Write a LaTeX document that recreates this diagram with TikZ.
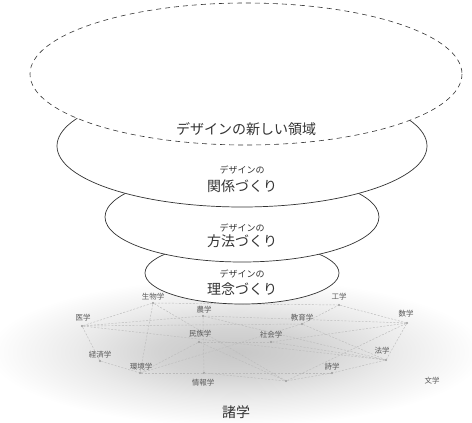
\documentclass[tikz,border=0pt]{standalone}
\usepackage{fontspec}
\newfontfamily\jp{Noto Sans CJK JP}
\definecolor{ink}{HTML}{333333}
\definecolor{netline}{HTML}{BBBBBB}
\definecolor{netlabel}{HTML}{5A5A5A}
\pgfdeclareradialshading{soft}{\pgfpoint{0bp}{0bp}}{%
  color(0bp)=(black!22); color(8bp)=(black!17); color(16bp)=(black!8);
  color(25bp)=(white); color(50bp)=(white)}
\begin{document}
\begin{tikzpicture}[x=1pt,y=-1pt,
  layer/.style={draw=ink, line width=0.7pt, fill=white},
  newlayer/.style={draw=ink, line width=0.6pt, dash pattern=on 5pt off 4pt, fill=white},
  dot/.style={circle, fill=black!40, inner sep=0pt, minimum size=2.4pt},
  lab/.style={font=\jp\fontsize{7.5}{8}\selectfont, text=netlabel, inner sep=0pt},
  net/.style={draw=netline, line width=0.45pt, dash pattern=on 2pt off 1.5pt},
  small/.style={font=\jp\fontsize{9}{10}\selectfont, text=ink, inner sep=0pt},
  big/.style={font=\jp\fontsize{14}{15}\selectfont, text=ink, inner sep=0pt}]
\useasboundingbox (0,0) rectangle (472,423);

% background shading of the disciplines
\shade[shading=soft] (236,352) ellipse [x radius=248, y radius=74];

% network dots
\node[dot] (igaku) at (82,326) {};
\node[dot] (seibutsu) at (153,303) {};
\node[dot] (nogaku) at (203,316) {};
\node[dot] (minzoku) at (199,342) {};
\node[dot] (shakai) at (271,342) {};
\node[dot] (kyoiku) at (302,324) {};
\node[dot] (kogaku) at (339,305) {};
\node[dot] (sugaku) at (407,323) {};
\node[dot] (hogaku) at (386,360) {};
\node[dot] (shigaku) at (332,373) {};
\node[dot] (unk) at (286,381) {};
\node[dot] (joho) at (204,373) {};
\node[dot] (kankyo) at (140,373) {};
\node[dot] (keizai) at (100,361) {};

% network connectors
\foreach \a/\b in {igaku/seibutsu, igaku/keizai, igaku/nogaku, igaku/kyoiku, igaku/hogaku,
  keizai/kankyo, seibutsu/kogaku, seibutsu/kankyo, seibutsu/unk, nogaku/joho, nogaku/sugaku,
  nogaku/hogaku, minzoku/shakai, minzoku/kankyo, shakai/hogaku, shakai/sugaku, kyoiku/kogaku,
  kyoiku/hogaku, kogaku/sugaku, sugaku/hogaku, hogaku/shigaku, shigaku/unk, joho/unk,
  kankyo/joho, kankyo/kyoiku, unk/sugaku, minzoku/unk, kankyo/shigaku}
  \draw[net] (\a) -- (\b);

% network labels
\node[lab] (l-igaku) at (83,318) {医学};
\node[lab] (l-seibutsu) at (153,297) {生物学};
\node[lab] (l-nogaku) at (204,310) {農学};
\node[lab] (l-minzoku) at (200,334) {民族学};
\node[lab] (l-shakai) at (271,335) {社会学};
\node[lab] (l-kyoiku) at (302,318) {教育学};
\node[lab] (l-kogaku) at (339,297) {工学};
\node[lab] (l-sugaku) at (406,314) {数学};
\node[lab] (l-hogaku) at (382,351) {法学};
\node[lab] (l-shigaku) at (332,367) {詩学};
\node[lab] (l-joho) at (203,383) {情報学};
\node[lab] (l-kankyo) at (141,367) {環境学};
\node[lab] (l-keizai) at (100,355) {経済学};
\node[lab] (l-bungaku) at (432,381) {文学};
\node[big] (shogaku) at (236,412) {諸学};

% stacked layers, bottom first
\draw[layer] (242,273) ellipse [x radius=97, y radius=31];
\node[small] (rinen-s) at (242,274) {デザインの};
\node[big] (rinen) at (242,289) {理念づくり};

\draw[layer] (242,217) ellipse [x radius=137, y radius=45];
\node[small] (hoho-s) at (242,228) {デザインの};
\node[big] (hoho) at (242,241) {方法づくり};

\draw[layer] (242,146) ellipse [x radius=185, y radius=61];
\node[small] (kankei-s) at (242,170) {デザインの};
\node[big] (kankei) at (242,186) {関係づくり};

\draw[newlayer] (246,74) ellipse [x radius=216, y radius=71];
\node[big] (atarashii) at (246,129) {デザインの新しい領域};
\end{tikzpicture}
\end{document}
